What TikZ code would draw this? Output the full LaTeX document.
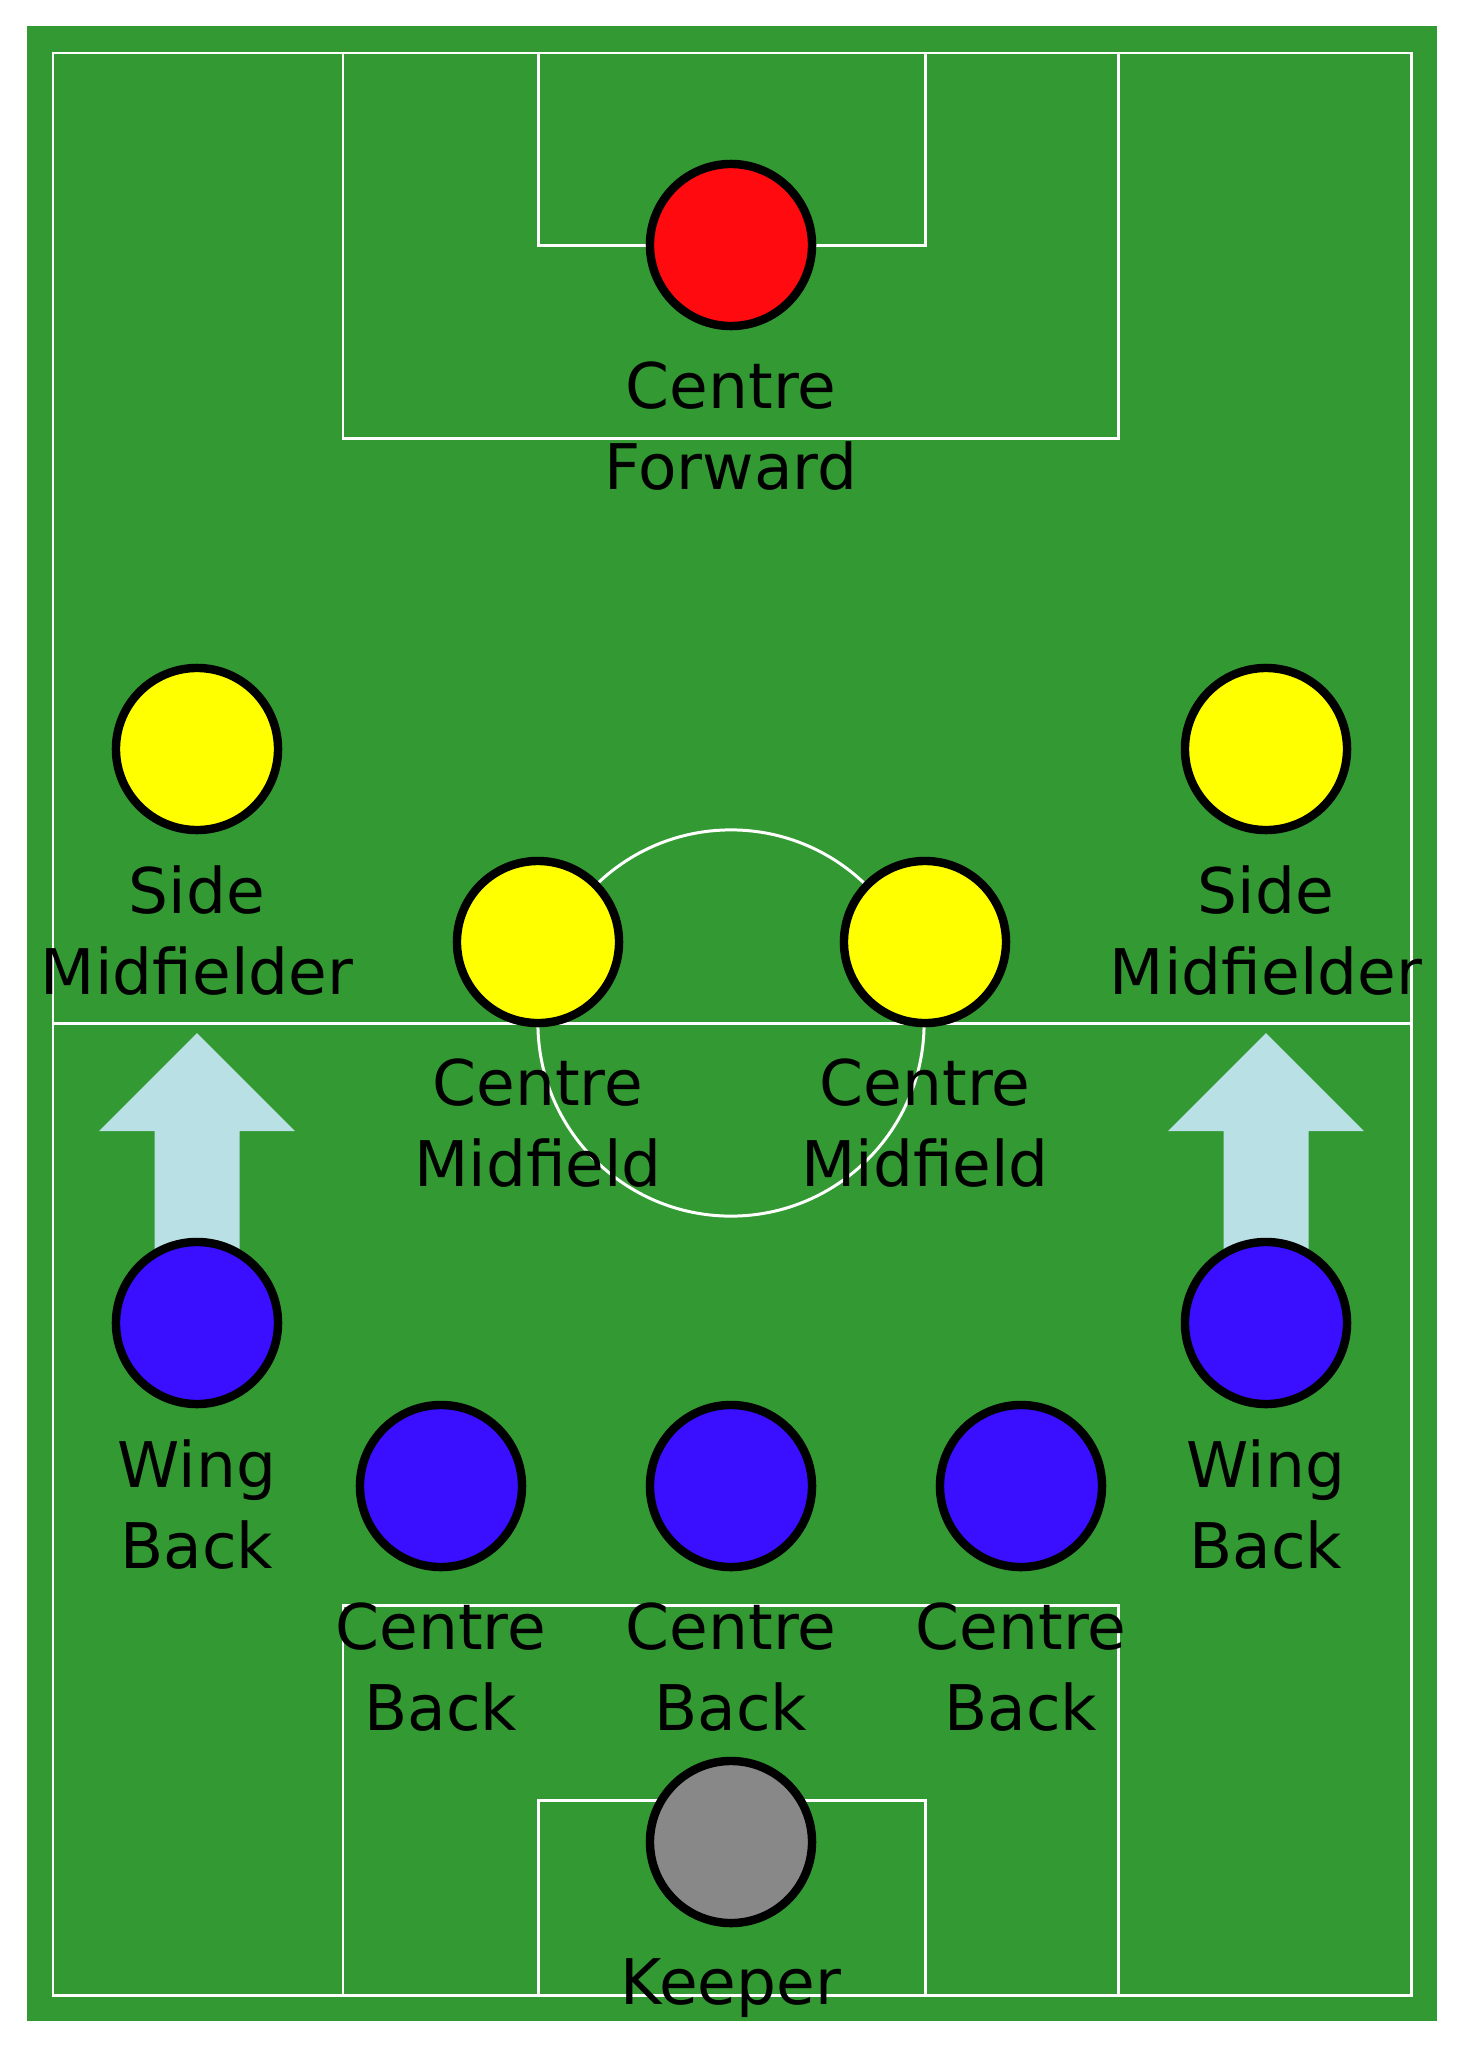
\documentclass[tikz,border=0pt]{standalone}
\usepackage{fontspec}
\setmainfont{DejaVu Sans}
\definecolor{pitch}{RGB}{51,153,51}
\definecolor{runblue}{RGB}{185,224,229}
\definecolor{defblue}{RGB}{58,14,255}
\definecolor{midyellow}{RGB}{255,255,0}
\definecolor{fwdred}{RGB}{255,10,15}
\definecolor{keepgrey}{RGB}{136,136,136}
\newcommand*{\player}[5]{%
\node[player, fill=#3] (#4) at (#1, #2) {};
\node[plabel] (#4-name) at (#1, #2+116) {#5};}
\newcommand*{\runarrow}[2]{%
\fill[runblue] (#1, #2) -- ++(98, 98) -- ++(-55.5, 0) -- ++(0, 192) -- ++(-85, 0)
  -- ++(0, -192) -- ++(-55.5, 0) -- cycle;}

\begin{document}
\begin{tikzpicture}[x=0.01cm, y=-0.01cm,
  pitchline/.style={draw=white, line width=0.85pt},
  player/.style={circle, draw=black, line width=2.4pt, minimum size=1.62cm, inner sep=0pt},
  plabel/.style={anchor=north, align=center, inner sep=0pt,
    font=\fontsize{17.9}{23}\selectfont}]

\useasboundingbox (0, 0) rectangle (1464, 2048);

% grass and markings
\fill[pitch] (27, 26) rectangle (1437, 2021);
\draw[pitchline] (53, 53) rectangle (1411, 1995);
\draw[pitchline] (53, 1023) -- (1411, 1023);
\draw[pitchline] (731, 1023) circle (1.93cm);
\draw[pitchline] (343, 53) rectangle (1118, 438);
\draw[pitchline] (538, 53) rectangle (925, 245);
\draw[pitchline] (343, 1605) rectangle (1118, 1995);
\draw[pitchline] (538, 1800) rectangle (925, 1995);

% wing backs push on
\runarrow{197}{1033}
\runarrow{1266}{1033}

\player{731}{245}{fwdred}{cf}{Centre\\Forward}
\player{197}{749}{midyellow}{lm}{Side\\Midfielder}
\player{1266}{749}{midyellow}{rm}{Side\\Midfielder}
\player{538}{942}{midyellow}{lcm}{Centre\\Midfield}
\player{925}{942}{midyellow}{rcm}{Centre\\Midfield}
\player{197}{1323}{defblue}{lwb}{Wing\\Back}
\player{1266}{1323}{defblue}{rwb}{Wing\\Back}
\player{441}{1486}{defblue}{lcb}{Centre\\Back}
\player{731}{1486}{defblue}{ccb}{Centre\\Back}
\player{1021}{1486}{defblue}{rcb}{Centre\\Back}
\player{731}{1842}{keepgrey}{gk}{Keeper}

\end{tikzpicture}
\end{document}
